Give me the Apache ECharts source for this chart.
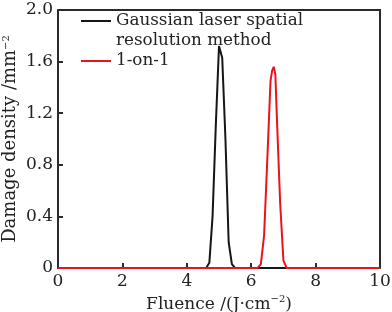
<!DOCTYPE html>
<html>
<head>
<meta charset="utf-8">
<script src="https://cdn.jsdelivr.net/npm/echarts@6/dist/echarts.min.js"></script>
<style>
    html, body { margin: 0; padding: 0; background: #fff; }
    #chart { width: 392px; height: 312px; }
</style>
</head>
<body>
<div id="chart"></div>
<script>
// values
var gaussName = 'Gaussian laser spatial\nresolution method';
var oneName = '1-on-1';
var gaussX = [0, 4.6, 4.7, 4.8, 4.9, 5.0, 5.05, 5.1, 5.2, 5.3, 5.4, 5.5, 10];
var gaussY = [0, 0, 0.04, 0.4, 1.1, 1.72, 1.71, 1.63, 1.0, 0.2, 0.03, 0, 0];
var oneX = [0, 6.2, 6.3, 6.4, 6.5, 6.6, 6.65, 6.7, 6.75, 6.8, 6.9, 7.0, 7.1, 10];
var oneY = [0, 0, 0.03, 0.25, 0.84, 1.45, 1.53, 1.56, 1.5, 1.15, 0.5, 0.06, 0, 0];

var pairs = function (xs, ys) {
    return xs.map(function (x, i) {
        return [x, ys[i]];
    });
};

var font = 'DejaVu Serif';
var axisColor = '#2a2a2a';
var supStyle = {fontFamily: font, fontSize: 10, color: '#222', verticalAlign: 'top', padding: [0, 0, 9, 0]};

var myChart = echarts.init(document.getElementById('chart'));
var option = {
    animation: false,
    grid: {left: 58, right: 12, top: 10, bottom: 44, outerBoundsMode: 'none', containLabel: false},
    legend: {
        orient: 'vertical',
        left: 81,
        top: -9,
        padding: 0,
        itemGap: 0,
        icon: 'rect',
        itemWidth: 30,
        itemHeight: 2,
        textStyle: {
            fontFamily: font,
            fontSize: 16.8,
            color: '#222',
            lineHeight: 20
        },
        // empty first line keeps the line icon beside "Gaussian ..."
        formatter: function (name) {
            return name === gaussName ? '\n' + name : name;
        },
        data: [gaussName, oneName]
    },
    xAxis: {
        type: 'value',
        min: 0,
        max: 10,
        interval: 2,
        name: 'Fluence /(J·cm{s|−2})',
        nameLocation: 'middle',
        nameGap: 22,
        nameTextStyle: {fontFamily: font, fontSize: 17, color: '#222', rich: {s: supStyle}},
        axisLine: {show: true, lineStyle: {color: axisColor, width: 2}},
        axisTick: {inside: true, length: 5, lineStyle: {color: axisColor, width: 2}},
        axisLabel: {fontFamily: font, fontSize: 17, color: '#222', margin: 5},
        splitLine: {show: false}
    },
    yAxis: {
        type: 'value',
        min: 0,
        max: 2,
        interval: 0.4,
        name: 'Damage density /mm{s|−2}',
        nameLocation: 'middle',
        nameGap: 38,
        nameMoveOverlap: false,
        nameTextStyle: {fontFamily: font, fontSize: 18, color: '#222', rich: {s: supStyle}},
        axisLine: {show: true, lineStyle: {color: axisColor, width: 2}},
        axisTick: {inside: true, length: 5, lineStyle: {color: axisColor, width: 2}},
        axisLabel: {
            fontFamily: font,
            fontSize: 17,
            color: '#222',
            margin: 5,
            formatter: function (v) {
                return v === 0 ? '0' : v.toFixed(1);
            }
        },
        splitLine: {show: false}
    },
    series: [{
        name: gaussName,
        type: 'line',
        data: pairs(gaussX, gaussY),
        showSymbol: false,
        color: '#161616',
        lineStyle: {width: 2}
    }, {
        name: oneName,
        type: 'line',
        data: pairs(oneX, oneY),
        showSymbol: false,
        color: '#e8141c',
        lineStyle: {width: 2}
    }],
    graphic: [{
        // top and right edges of the frame
        type: 'polyline',
        shape: {points: [[58, 10], [380, 10], [380, 268]]},
        style: {stroke: axisColor, lineWidth: 2, fill: null}
    }]
};
myChart.setOption(option);
</script>
</body>
</html>
